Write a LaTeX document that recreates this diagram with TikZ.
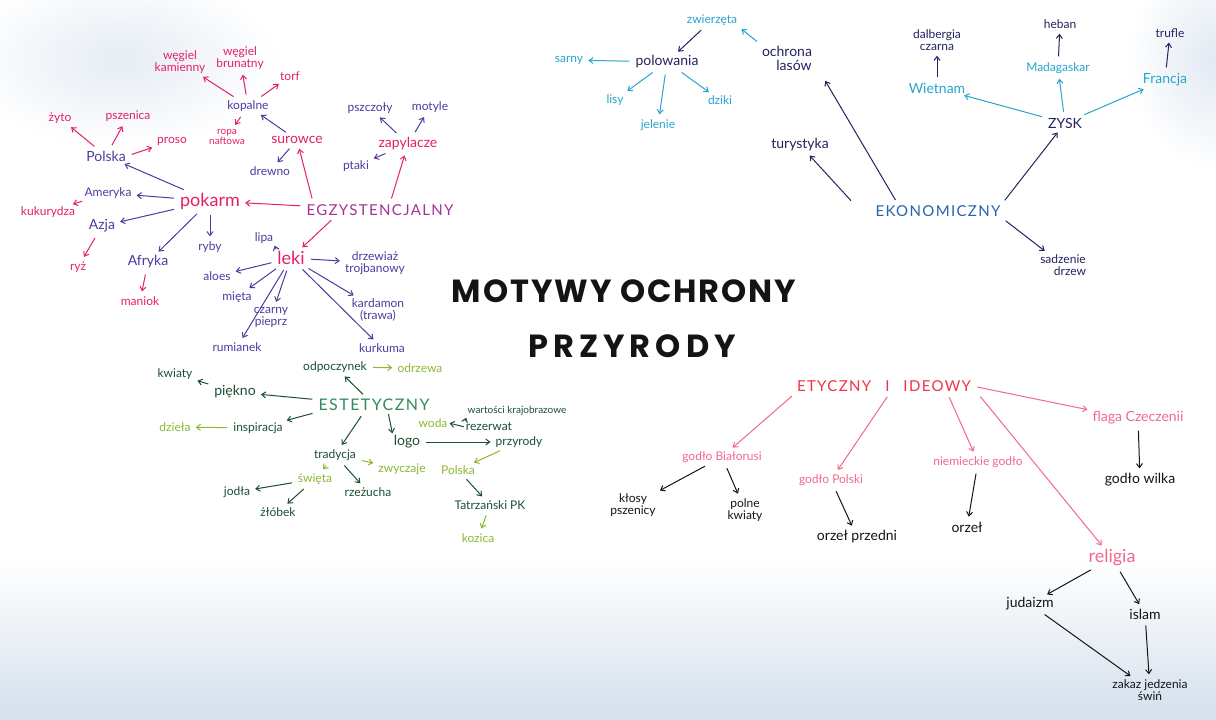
\documentclass[tikz,border=0pt]{standalone}
\usepackage{fontspec}
\setmainfont{Lato}
\newfontfamily\hw{Lato}
\newfontfamily\capsf[LetterSpace=9]{Lato}
\newfontfamily\titlef[LetterSpace=6]{Poppins Bold}
\newfontfamily\titleg[LetterSpace=16]{Poppins Bold}
\usetikzlibrary{arrows.meta,calc}
\definecolor{pinkc}{RGB}{228,32,105}
\definecolor{purc}{RGB}{80,58,160}
\definecolor{egzc}{RGB}{165,50,150}
\definecolor{dgreen}{RGB}{28,80,52}
\definecolor{lgreen}{RGB}{140,185,50}
\definecolor{estc}{RGB}{50,140,90}
\definecolor{cyanc}{RGB}{40,165,205}
\definecolor{navyc}{RGB}{35,35,95}
\definecolor{ekoc}{RGB}{40,100,175}
\definecolor{redc}{RGB}{240,50,70}
\definecolor{lpink}{RGB}{240,105,140}
\definecolor{blackc}{RGB}{20,20,20}
\definecolor{bgblue}{RGB}{212,224,237}
\begin{document}
\begin{tikzpicture}[x=1pt,y=-1pt,
  lbl/.style={inner sep=1pt, align=center, font=\hw\fontsize{12}{12}\selectfont},
  mid/.style={lbl, font=\hw\fontsize{14}{14}\selectfont},
  big/.style={lbl, font=\hw\fontsize{18}{18}\selectfont},
  caps/.style={lbl, font=\capsf\fontsize{15}{15}\selectfont},
  sm/.style={lbl, font=\hw\fontsize{10}{10}\selectfont},
  ar/.style={-{Straight Barb[length=4pt,width=6pt]}, line width=1pt, shorten <=5pt, shorten >=4pt},
]
\useasboundingbox (0,0) rectangle (1216,720);
% background washes
\fill[white] (0,0) rectangle (1216,720);
\shade[top color=white, bottom color=bgblue] (0,560) rectangle (1216,720);
\shade[inner color=bgblue!60, outer color=white] (120,60) ellipse [x radius=160, y radius=90];
\shade[inner color=bgblue!70, outer color=white] (1216,60) ellipse [x radius=90, y radius=110];

% ---------------- title
\node[font=\titlef\fontsize{32}{32}\selectfont, text=blackc] (t1) at (624,291) {MOTYWY OCHRONY};
\node[font=\titleg\fontsize{32}{32}\selectfont, text=blackc] (t2) at (632,346) {PRZYRODY};

% ---------------- EGZYSTENCJALNY
\node[caps, text=egzc] (egz) at (380,210) {EGZYSTENCJALNY};
\node[big, text=pinkc] (pokarm) at (210,201) {pokarm};
\node[mid, text=pinkc] (surowce) at (297,140) {surowce};
\node[mid, text=pinkc] (zapylacze) at (408,144) {zapylacze};
\node[big, text=pinkc] (leki) at (291,258) {leki};
\node[lbl, text=purc] (kopalne) at (248,106) {kopalne};
\node[lbl, text=pinkc] (wkam) at (180,62) {węgiel\\kamienny};
\node[lbl, text=pinkc] (wbru) at (240,58) {węgiel\\brunatny};
\node[lbl, text=pinkc] (torf) at (290,76) {torf};
\node[sm, text=pinkc] (ropa) at (227,137) {ropa\\naftowa};
\node[lbl, text=purc] (drewno) at (270,171) {drewno};
\node[lbl, text=purc] (pszczoly) at (370,108) {pszczoły};
\node[lbl, text=purc] (motyle) at (430,107) {motyle};
\node[lbl, text=purc] (ptaki) at (356,166) {ptaki};
\node[mid, text=purc] (polska) at (106,156) {Polska};
\node[lbl, text=pinkc] (zyto) at (60,118) {żyto};
\node[lbl, text=pinkc] (pszenica) at (128,116) {pszenica};
\node[lbl, text=pinkc] (proso) at (172,141) {proso};
\node[lbl, text=purc] (ameryka) at (108,193) {Ameryka};
\node[lbl, text=pinkc] (kukurydza) at (48,212) {kukurydza};
\node[mid, text=purc] (azja) at (102,226) {Azja};
\node[lbl, text=pinkc] (ryz) at (78,267) {ryż};
\node[mid, text=purc] (afryka) at (148,262) {Afryka};
\node[lbl, text=pinkc] (maniok) at (140,301) {maniok};
\node[lbl, text=purc] (ryby) at (210,247) {ryby};
\node[lbl, text=purc] (lipa) at (264,238) {lipa};
\node[lbl, text=purc] (aloes) at (217,276) {aloes};
\node[lbl, text=purc] (drzew) at (375,263) {drzewiaż\\trojbanowy};
\node[lbl, text=purc] (mieta) at (237,297) {mięta};
\node[lbl, text=purc] (pieprz) at (271,317) {czarny\\pieprz};
\node[lbl, text=purc] (kardamon) at (378,310) {kardamon\\(trawa)};
\node[lbl, text=purc] (rumianek) at (237,347) {rumianek};
\node[lbl, text=purc] (kurkuma) at (382,348) {kurkuma};

\draw[ar, pinkc] (egz) -- (pokarm);
\draw[ar, pinkc] ([xshift=8pt]egz.north west) -- (surowce);
\draw[ar, pinkc] ([xshift=10pt]egz.north) -- (zapylacze);
\draw[ar, pinkc] ([xshift=-45pt]egz.south) -- (leki);
\draw[ar, purc] (pokarm) -- (polska);
\draw[ar, purc] (pokarm) -- (ameryka);
\draw[ar, purc] (pokarm) -- (azja);
\draw[ar, purc] (pokarm) -- (afryka);
\draw[ar, purc] (pokarm.south) -- (ryby);
\draw[ar, pinkc] (polska) -- (zyto);
\draw[ar, pinkc] (polska) -- (pszenica);
\draw[ar, pinkc] (polska.east) -- (proso);
\draw[ar, pinkc] (ameryka) -- (kukurydza);
\draw[ar, pinkc] (azja) -- (ryz);
\draw[ar, pinkc] (afryka) -- (maniok);
\draw[ar, purc] (surowce) -- (kopalne);
\draw[ar, purc] (surowce) -- (drewno);
\draw[ar, pinkc] (kopalne) -- (wkam);
\draw[ar, pinkc] (kopalne) -- (wbru);
\draw[ar, pinkc] (kopalne) -- (torf);
\draw[ar, pinkc] (kopalne) -- (ropa);
\draw[ar, purc] (zapylacze) -- (pszczoly);
\draw[ar, purc] (zapylacze) -- (motyle);
\draw[ar, purc] (zapylacze) -- (ptaki);
\draw[ar, purc, shorten <=1pt, shorten >=1pt] (leki.north west) -- (lipa.south east);
\draw[ar, purc] (leki) -- (aloes);
\draw[ar, purc] (leki) -- (drzew);
\draw[ar, purc] (leki) -- (mieta);
\draw[ar, purc] (leki) -- (pieprz);
\draw[ar, purc] (leki) -- (rumianek);
\draw[ar, purc] (leki) -- (kardamon);
\draw[ar, purc] (leki) -- (kurkuma);

% ---------------- ESTETYCZNY
\node[caps, text=estc, font=\capsf\fontsize{16}{16}\selectfont] (est) at (374,405) {ESTETYCZNY};
\node[lbl, text=dgreen] (odpocz) at (335,367) {odpoczynek};
\node[lbl, text=lgreen] (odrzewa) at (420,368) {odrzewa};
\node[mid, text=dgreen] (piekno) at (235,392) {piękno};
\node[lbl, text=dgreen] (kwiaty) at (175,374) {kwiaty};
\node[lbl, text=dgreen] (insp) at (258,428) {inspiracja};
\node[lbl, text=lgreen] (dziela) at (175,427) {dzieła};
\node[lbl, text=dgreen] (trad) at (335,455) {tradycja};
\node[lbl, text=lgreen] (swieta) at (315,479) {święta};
\node[lbl, text=lgreen] (zwyczaje) at (402,469) {zwyczaje};
\node[lbl, text=dgreen] (jodla) at (237,492) {jodła};
\node[lbl, text=dgreen] (zlobek) at (278,512) {żłóbek};
\node[lbl, text=dgreen] (rzezucha) at (368,492) {rzeżucha};
\node[mid, text=dgreen] (logo) at (407,442) {logo};
\node[sm, text=dgreen] (wartosci) at (517,411) {wartości krajobrazowe};
\node[lbl, text=lgreen] (woda) at (433,423) {woda};
\node[lbl, text=dgreen] (rez) at (489,427) {rezerwat};
\node[lbl, text=dgreen] (przyrody) at (519,442) {przyrody};
\node[lbl, text=lgreen] (polska2) at (458,470) {Polska};
\node[lbl, text=dgreen] (tatry) at (490,505) {Tatrzański PK};
\node[lbl, text=lgreen] (kozica) at (478,538) {kozica};

\draw[ar, dgreen] (est) -- (odpocz);
\draw[ar, lgreen] (odpocz) -- (odrzewa);
\draw[ar, dgreen] (est) -- (piekno);
\draw[ar, dgreen] (piekno) -- (kwiaty);
\draw[ar, dgreen] (est.south west) -- (insp);
\draw[ar, lgreen] (insp) -- (dziela);
\draw[ar, dgreen] ([xshift=-10pt]est.south) -- (trad);
\draw[ar, dgreen, shorten <=2pt, shorten >=1pt] ([xshift=14pt]est.south) -- (logo.north west);
\draw[ar, dgreen] (logo) -- (przyrody.west);
\draw[ar, lgreen] (trad) -- (swieta);
\draw[ar, dgreen] (trad) -- (rzezucha);
\draw[ar, lgreen] (trad) -- (zwyczaje);
\draw[ar, dgreen] (swieta) -- (jodla);
\draw[ar, dgreen] (swieta) -- (zlobek);
\draw[ar, dgreen, shorten <=1pt, shorten >=1pt] (rez.west) -- (woda.east);
\draw[ar, dgreen, shorten <=1pt, shorten >=1pt] (rez.north west) -- (wartosci.south west);
\draw[ar, lgreen] (przyrody) -- (polska2);
\draw[ar, dgreen] (polska2) -- (tatry);
\draw[ar, lgreen] (tatry) -- (kozica);

% ---------------- top centre (cyan)
\node[lbl, text=cyanc] (zwierzeta) at (712,20) {zwierzęta};
\node[mid, text=navyc] (polowania) at (667,62) {polowania};
\node[lbl, text=cyanc] (sarny) at (569,60) {sarny};
\node[lbl, text=cyanc] (lisy) at (615,100) {lisy};
\node[lbl, text=cyanc] (jelenie) at (658,125) {jelenie};
\node[lbl, text=cyanc] (dziki) at (720,100) {dziki};
\node[mid, text=navyc] (ochrona) at (787,58) {ochrona\\\hspace*{14pt}lasów};

\draw[ar, navyc] (zwierzeta) -- (polowania);
\draw[ar, cyanc] (ochrona.north west) -- (zwierzeta.south east);
\draw[ar, cyanc] (polowania) -- (sarny);
\draw[ar, cyanc] (polowania) -- (lisy);
\draw[ar, cyanc] (polowania) -- (jelenie);
\draw[ar, cyanc] (polowania) -- (dziki);

% ---------------- EKONOMICZNY
\node[caps, text=ekoc] (eko) at (938,211) {EKONOMICZNY};
\node[mid, text=navyc] (turystyka) at (800,145) {turystyka};
\node[mid, text=navyc] (zysk) at (1065,123) {ZYSK};
\node[lbl, text=navyc] (sadzenie) at (1063,265) {sadzenie\\\hspace*{14pt}drzew};
\node[mid, text=cyanc] (wietnam) at (937,88) {Wietnam};
\node[lbl, text=navyc] (dalbergia) at (937,40) {dalbergia\\czarna};
\node[lbl, text=cyanc] (madagaskar) at (1058,68) {Madagaskar};
\node[lbl, text=navyc] (heban) at (1060,24) {heban};
\node[mid, text=cyanc] (francja) at (1165,80) {Francja};
\node[lbl, text=navyc] (trufle) at (1170,33) {trufle};

\draw[ar, navyc] ([xshift=-20pt]eko.north west) -- (turystyka);
\draw[ar, navyc] ([xshift=-40pt]eko.north) -- ([xshift=10pt,yshift=-6pt]ochrona.south east);
\draw[ar, navyc] (eko.north east) -- (zysk);
\draw[ar, navyc] (eko.south east) -- (sadzenie);
\draw[ar, cyanc] (zysk) -- (wietnam);
\draw[ar, cyanc] (zysk) -- (madagaskar);
\draw[ar, cyanc] (zysk) -- (francja);
\draw[ar, navyc] (wietnam) -- (dalbergia);
\draw[ar, navyc] (madagaskar) -- (heban);
\draw[ar, navyc] (francja) -- (trufle);

% ---------------- ETYCZNY I IDEOWY
\node[caps, text=redc] (ety) at (884,386) {ETYCZNY\hspace{14pt}I\hspace{14pt}IDEOWY};
\node[lbl, text=lpink] (bialorus) at (722,457) {godło Białorusi};
\node[lbl, text=lpink] (polski) at (831,480) {godło Polski};
\node[lbl, text=lpink] (niem) at (978,462) {niemieckie godło};
\node[mid, text=lpink] (flaga) at (1138,418) {flaga Czeczenii};
\node[mid, text=blackc] (wilka) at (1140,480) {godło wilka};
\node[lbl, text=blackc] (klosy) at (633,505) {kłosy\\pszenicy};
\node[lbl, text=blackc] (polne) at (745,510) {polne\\kwiaty};
\node[mid, text=blackc] (przedni) at (857,537) {orzeł przedni};
\node[mid, text=blackc] (orzel) at (967,527) {orzeł};
\node[big, text=lpink] (religia) at (1112,558) {religia};
\node[mid, text=blackc] (judaizm) at (1030,604) {judaizm};
\node[mid, text=blackc] (islam) at (1145,614) {islam};
\node[lbl, text=blackc] (zakaz) at (1150,690) {zakaz jedzenia\\świń};

\draw[ar, lpink] (ety.south west) -- (bialorus);
\draw[ar, lpink] ([xshift=6pt]ety.south) -- (polski);
\draw[ar, lpink] ([xshift=-25pt]ety.south east) -- (niem);
\draw[ar, lpink] ([xshift=5pt]ety.south east) -- (religia);
\draw[ar, lpink] (ety.east) -- (flaga.north west);
\draw[ar, blackc] (bialorus) -- (klosy);
\draw[ar, blackc] (bialorus) -- (polne);
\draw[ar, blackc] (polski) -- (przedni);
\draw[ar, blackc] (niem) -- (orzel);
\draw[ar, blackc] (flaga) -- (wilka);
\draw[ar, blackc] (religia) -- (judaizm);
\draw[ar, blackc] (religia) -- (islam);
\draw[ar, blackc] (judaizm) -- (zakaz);
\draw[ar, blackc] (islam) -- (zakaz);
\end{tikzpicture}
\end{document}
